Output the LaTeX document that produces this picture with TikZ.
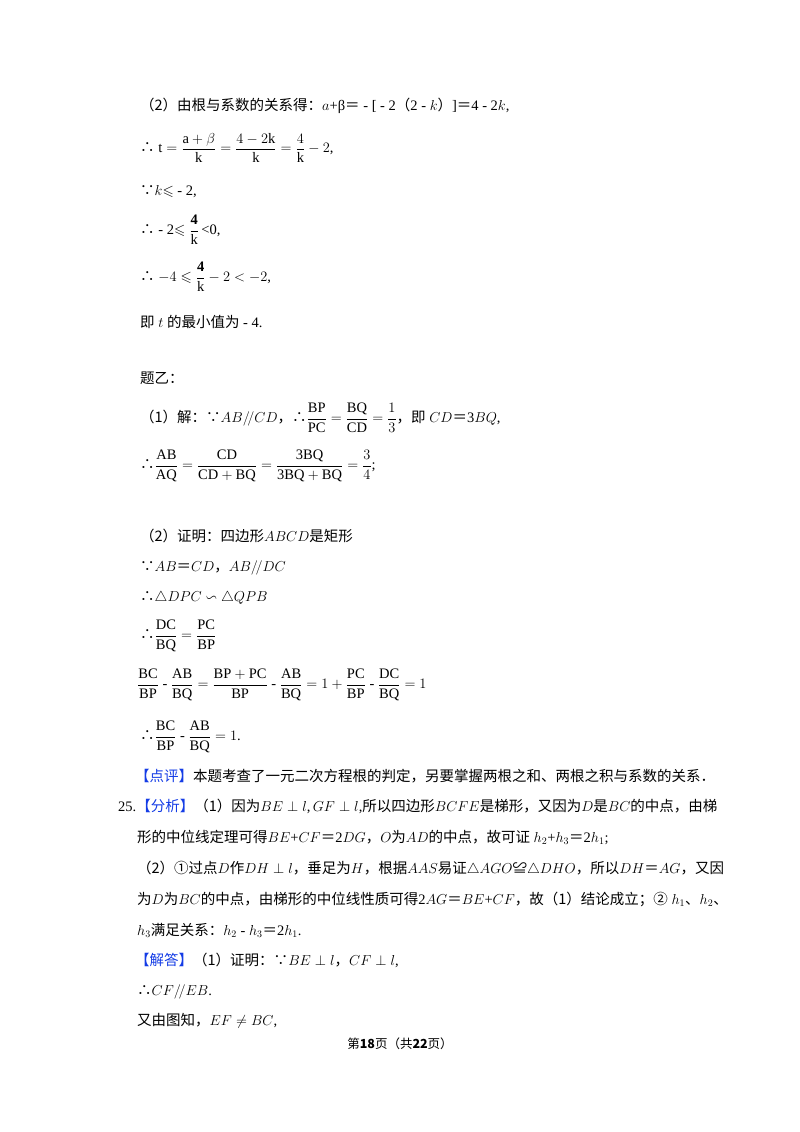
\documentclass[tikz,border=0pt]{standalone}
\usepackage{amsmath,amssymb}
\usepackage{fontspec}
\setmainfont{Liberation Serif}
\newfontfamily\zhf{Noto Sans CJK SC}
\newcommand\zh[1]{{\zhf #1}}
\newcommand\eqz{{\zhf ＝}}
\definecolor{hd}{RGB}{20,60,230}
\begin{document}
\begin{tikzpicture}[x=1pt,y=-1pt,
  ln/.style={anchor=base west,inner sep=0pt,font=\fontsize{14.5}{17}\selectfont},
  lc/.style={anchor=west,inner sep=0pt,font=\fontsize{14.5}{17}\selectfont}]
\useasboundingbox[fill=white] (0,0) rectangle (800,1132);
\node[ln] (l1) at (140,110) {\zh{（2）由根与系数的关系得：}$a$+β\eqz{} - [ - 2\zh{（}2 - $k$\zh{）}]\eqz 4 - 2$k$,};
\node[lc] (l2) at (140,148) {\zh{∴} $\mathrm{t}=\dfrac{\mathrm{a}+\beta}{\mathrm{k}}=\dfrac{4-2\mathrm{k}}{\mathrm{k}}=\dfrac{4}{\mathrm{k}}-2$,};
\node[ln] (l3) at (140,195) {\zh{∵}$k$$\leqslant$ - 2,};
\node[lc] (l4) at (140,230) {\zh{∴} - 2$\leqslant\dfrac{\mathbf 4}{\mathrm k}$\,<0,};
\node[lc] (l5) at (140,277) {\zh{∴} $-4\leqslant\dfrac{\mathbf 4}{\mathrm k}-2<-2$,};
\node[ln] (l6) at (140,327) {\zh{即} $t$ \zh{的最小值为} - 4.};
\node[ln] (l7) at (140,383) {\zh{题乙：}};
\node[lc] (l8) at (140,418) {\zh{（1）解：∵}$AB/\!/CD$\zh{，∴}$\dfrac{\mathrm{BP}}{\mathrm{PC}}=\dfrac{\mathrm{BQ}}{\mathrm{CD}}=\dfrac{1}{3}$\zh{，即} $CD$\eqz 3$BQ$,};
\node[lc] (l9) at (140,466) {\zh{∴}$\dfrac{\mathrm{AB}}{\mathrm{AQ}}=\dfrac{\mathrm{CD}}{\mathrm{CD+BQ}}=\dfrac{\mathrm{3BQ}}{\mathrm{3BQ+BQ}}=\dfrac{3}{4}$;};
\node[ln] (l10) at (140,541) {\zh{（2）证明：四边形}$ABCD$\zh{是矩形}};
\node[ln] (l11) at (140,571) {\zh{∵}$AB$\eqz$CD$\zh{，}$AB/\!/DC$};
\node[ln] (l12) at (140,601) {\zh{∴}$\triangle DPC\backsim\triangle QPB$};
\node[lc] (l13) at (140,636) {\zh{∴}$\dfrac{\mathrm{DC}}{\mathrm{BQ}}=\dfrac{\mathrm{PC}}{\mathrm{BP}}$};
\node[lc] (l14) at (137,685) {$\dfrac{\mathrm{BC}}{\mathrm{BP}}$ - $\dfrac{\mathrm{AB}}{\mathrm{BQ}}=\dfrac{\mathrm{BP+PC}}{\mathrm{BP}}$ - $\dfrac{\mathrm{AB}}{\mathrm{BQ}}=1+\dfrac{\mathrm{PC}}{\mathrm{BP}}$ - $\dfrac{\mathrm{DC}}{\mathrm{BQ}}=1$};
\node[lc] (l15) at (140,737) {\zh{∴}$\dfrac{\mathrm{BC}}{\mathrm{BP}}$ - $\dfrac{\mathrm{AB}}{\mathrm{BQ}}=1$.};
\node[ln] (l16) at (135,781) {\zh{\textcolor{hd}{【点评】}本题考查了一元二次方程根的判定，另要掌握两根之和、两根之积与系数的关系．}};
\node[ln] (l17) at (118,811) {25.\zh{\textcolor{hd}{【分析】}（1）因为}$BE\perp l$,$\,GF\perp l$,\zh{所以四边形}$BCFE$\zh{是梯形，又因为}$D$\zh{是}$BC$\zh{的中点，由梯}};
\node[ln] (l18) at (137,842) {\zh{形的中位线定理可得}$BE$+$CF$\eqz 2$DG$\zh{，}$O$\zh{为}$AD$\zh{的中点，故可证} $h_2$+$h_3$\eqz 2$h_1$;};
\node[ln] (l19) at (137,873) {\zh{（2）①过点}$D$\zh{作}$DH\perp l$\zh{，垂足为}$H$\zh{，根据}$AAS$\zh{易证}$\triangle AGO$\zh{≌}$\triangle DHO$\zh{，所以}$DH$\eqz$AG$\zh{，又因}};
\node[ln] (l20) at (137,904) {\zh{为}$D$\zh{为}$BC$\zh{的中点，由梯形的中位线性质可得}2$AG$\eqz$BE$+$CF$\zh{，故（1）结论成立；②} $h_1$\zh{、}$h_2$\zh{、}};
\node[ln] (l21) at (137,935) {$h_3$\zh{满足关系：}$h_2$ - $h_3$\eqz 2$h_1$.};
\node[ln] (l22) at (135,965) {\zh{\textcolor{hd}{【解答】}（1）证明：∵}$BE\perp l$\zh{，}$CF\perp l$,};
\node[ln] (l23) at (137,995) {\zh{∴}$CF/\!/EB$.};
\node[ln] (l24) at (137,1025) {\zh{又由图知，}$EF\neq BC$,};
\node[anchor=base,inner sep=0pt,font=\fontsize{12.5}{15}\selectfont] (ft) at (400,1048) {\zh{第\textbf{18}页（共\textbf{22}页）}};
\end{tikzpicture}
\end{document}
